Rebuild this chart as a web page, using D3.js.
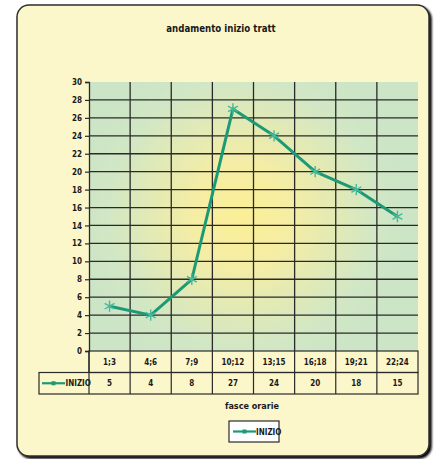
<!DOCTYPE html>
<html>
<head>
<meta charset="utf-8">
<script src="https://cdn.jsdelivr.net/npm/d3@7"></script>
<style>
  html, body { margin: 0; padding: 0; background: #ffffff; }
  svg { display: block; }
  text { font-family: "Liberation Sans Narrow", "DejaVu Sans Condensed", "DejaVu Sans", sans-serif; font-stretch: condensed; font-weight: bold; fill: #1a1a1a; }
</style>
</head>
<body>
<svg id="chart" width="435" height="459"></svg>
<script>
// Data
const categories = ["1;3", "4;6", "7;9", "10;12", "13;15", "16;18", "19;21", "22;24"];
const inizio = [5, 4, 8, 27, 24, 20, 18, 15];
const yTicks = [0, 2, 4, 6, 8, 10, 12, 14, 16, 18, 20, 22, 24, 26, 28, 30];
const seriesName = "INIZIO";
const chartTitle = "andamento inizio tratt";
const axisTitle = "fasce orarie";

const svg = d3.select("#chart");
const defs = svg.append("defs");

// Frame
const frame = { x: 17, y: 5, w: 412, h: 451 };
const plot = { left: 89, right: 418, top: 82, bottom: 351 };
const rowH = 21.5;

// Drop shadow for the frame
const shadow = defs.append("filter").attr("id", "shadow").attr("x", "-5%").attr("y", "-5%").attr("width", "115%").attr("height", "115%");
shadow.append("feGaussianBlur").attr("in", "SourceAlpha").attr("stdDeviation", 1.2);
shadow.append("feOffset").attr("dx", 1.5).attr("dy", 1.5).attr("result", "off");
const merge = shadow.append("feMerge");
merge.append("feMergeNode").attr("in", "off");
merge.append("feMergeNode").attr("in", "SourceGraphic");

svg.append("rect")
  .attr("x", frame.x).attr("y", frame.y)
  .attr("width", frame.w).attr("height", frame.h)
  .attr("rx", 12).attr("ry", 12)
  .attr("fill", "#fcf6cb")
  .attr("stroke", "#2e2e2e").attr("stroke-width", 1.5)
  .attr("filter", "url(#shadow)");

// Plot background: green with a warm yellow glow in the middle
const grad = defs.append("radialGradient").attr("id", "glow")
  .attr("gradientUnits", "userSpaceOnUse")
  .attr("cx", 242).attr("cy", 215).attr("r", 165);
grad.append("stop").attr("offset", "0%").attr("stop-color", "#fbef96");
grad.append("stop").attr("offset", "30%").attr("stop-color", "#f5eda4");
grad.append("stop").attr("offset", "80%").attr("stop-color", "#d2e7c4");
grad.append("stop").attr("offset", "100%").attr("stop-color", "#cce5c6");

const x = d3.scaleBand().domain(categories).range([plot.left, plot.right]).paddingInner(0).paddingOuter(0);
const y = d3.scaleLinear().domain([0, 30]).range([plot.bottom, plot.top]);

svg.append("rect")
  .attr("x", plot.left).attr("y", plot.top)
  .attr("width", plot.right - plot.left).attr("height", plot.bottom - plot.top)
  .attr("fill", "url(#glow)");

// Horizontal gridlines (every 2 units, not at the top)
svg.append("g")
  .selectAll("line")
  .data(yTicks.filter(d => d > 0 && d < 30))
  .join("line")
  .attr("x1", plot.left).attr("x2", plot.right)
  .attr("y1", d => y(d)).attr("y2", d => y(d))
  .attr("stroke", "#2a2a2a").attr("stroke-width", 1.3);

// Vertical category dividers
svg.append("g")
  .selectAll("line")
  .data(categories.slice(1))
  .join("line")
  .attr("x1", d => x(d)).attr("x2", d => x(d))
  .attr("y1", plot.top).attr("y2", plot.bottom)
  .attr("stroke", "#2a2a2a").attr("stroke-width", 1.3);

// Y axis
const yAxis = svg.append("g")
  .attr("transform", `translate(${plot.left},0)`)
  .call(d3.axisLeft(y).tickValues(yTicks).tickSize(4).tickPadding(3).tickFormat(d3.format("d")));
yAxis.select(".domain").attr("stroke", "#2a2a2a").attr("stroke-width", 1.3);
yAxis.selectAll(".tick line").attr("stroke", "#2a2a2a").attr("stroke-width", 1.2);
yAxis.selectAll(".tick text").style("font-size", "8px").style("font-family", null).attr("fill", "#1a1a1a");

// Data table under the plot
const tbl = svg.append("g");
const tableLeft = 39;
// category row
tbl.append("rect").attr("x", plot.left).attr("y", plot.bottom)
  .attr("width", plot.right - plot.left).attr("height", rowH)
  .attr("fill", "none").attr("stroke", "#2a2a2a").attr("stroke-width", 1.2);
// value row
tbl.append("rect").attr("x", tableLeft).attr("y", plot.bottom + rowH)
  .attr("width", plot.right - tableLeft).attr("height", rowH)
  .attr("fill", "none").attr("stroke", "#2a2a2a").attr("stroke-width", 1.2);
tbl.append("line").attr("x1", plot.left).attr("x2", plot.left)
  .attr("y1", plot.bottom).attr("y2", plot.bottom + 2 * rowH)
  .attr("stroke", "#2a2a2a").attr("stroke-width", 1.2);
tbl.selectAll("line.div")
  .data(categories.slice(1))
  .join("line").attr("class", "div")
  .attr("x1", d => x(d)).attr("x2", d => x(d))
  .attr("y1", plot.bottom).attr("y2", plot.bottom + 2 * rowH)
  .attr("stroke", "#2a2a2a").attr("stroke-width", 1.2);

tbl.selectAll("text.cat")
  .data(categories)
  .join("text").attr("class", "cat")
  .attr("x", d => x(d) + x.bandwidth() / 2)
  .attr("y", plot.bottom + rowH / 2 + 3)
  .attr("text-anchor", "middle")
  .style("font-size", "8px")
  .text(d => d);

tbl.selectAll("text.val")
  .data(inizio)
  .join("text").attr("class", "val")
  .attr("x", (d, i) => x(categories[i]) + x.bandwidth() / 2)
  .attr("y", plot.bottom + rowH * 1.5 + 3)
  .attr("text-anchor", "middle")
  .style("font-size", "8px")
  .text(d => d);

// Legend key inside table
const lineColor = "#1c9a76";
const markerColor = "#46b99a";
function legendKey(g, x0, x1, cy) {
  g.append("line").attr("x1", x0).attr("x2", x1).attr("y1", cy).attr("y2", cy)
    .attr("stroke", lineColor).attr("stroke-width", 2.2);
  g.append("rect").attr("x", (x0 + x1) / 2 - 2).attr("y", cy - 2).attr("width", 4).attr("height", 4)
    .attr("fill", lineColor);
}
legendKey(tbl, 42, 65, plot.bottom + rowH * 1.5);
tbl.append("text")
  .attr("x", 65.5).attr("y", plot.bottom + rowH * 1.5 + 3)
  .style("font-size", "8px").text(seriesName);

// Series line
const line = d3.line()
  .x((d, i) => x(categories[i]) + x.bandwidth() / 2)
  .y(d => y(d));
svg.append("path")
  .datum(inizio)
  .attr("d", line)
  .attr("fill", "none")
  .attr("stroke", lineColor)
  .attr("stroke-width", 3)
  .attr("stroke-linejoin", "round");

// Asterisk markers
const star = d3.symbol().type(d3.symbolAsterisk).size(90);
svg.append("g")
  .selectAll("path")
  .data(inizio)
  .join("path")
  .attr("transform", (d, i) => `translate(${x(categories[i]) + x.bandwidth() / 2},${y(d)})`)
  .attr("d", star)
  .attr("fill", "none")
  .attr("stroke", markerColor)
  .attr("stroke-width", 1.4);

// Title
svg.append("text")
  .attr("x", 221).attr("y", 32)
  .attr("text-anchor", "middle")
  .style("font-size", "9.6px")
  .text(chartTitle);

// Axis title
svg.append("text")
  .attr("x", 252).attr("y", 409)
  .attr("text-anchor", "middle")
  .style("font-size", "9px")
  .text(axisTitle);

// Legend box
const lg = svg.append("g");
lg.append("rect").attr("x", 229).attr("y", 421).attr("width", 50).attr("height", 21)
  .attr("fill", "#ffffff").attr("stroke", "#2a2a2a").attr("stroke-width", 1.2);
legendKey(lg, 233, 256, 431.5);
lg.append("text").attr("x", 256).attr("y", 434.5).style("font-size", "8px").text(seriesName);
</script>
</body>
</html>
